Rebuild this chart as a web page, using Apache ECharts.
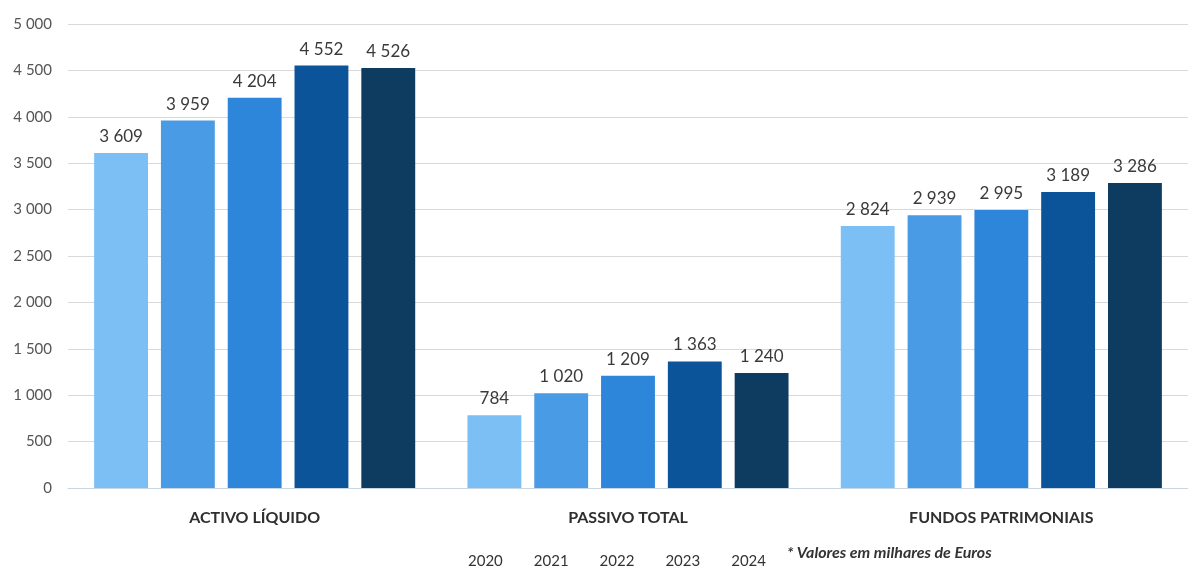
<!DOCTYPE html>
<html>
<head>
<meta charset="utf-8">
<script src="https://cdn.jsdelivr.net/npm/echarts@6/dist/echarts.min.js"></script>
<style>
  html, body { margin: 0; padding: 0; background: #fff; }
  #chart { width: 1188px; height: 567px; }
</style>
</head>
<body>
<div id="chart"></div>
<script>
var categories = ['ACTIVO LÍQUIDO', 'PASSIVO TOTAL', 'FUNDOS PATRIMONIAIS'];
var years = ['2020', '2021', '2022', '2023', '2024'];
var values2020 = [3609, 784, 2824];
var values2021 = [3959, 1020, 2939];
var values2022 = [4204, 1209, 2995];
var values2023 = [4552, 1363, 3189];
var values2024 = [4526, 1240, 3286];
var allValues = [values2020, values2021, values2022, values2023, values2024];
var colors = ['#7cbff4', '#4a9be6', '#2d86da', '#0b5499', '#0e3b60'];

// thousands with a space, as in the source
function fmt(v) {
    return String(v).replace(/\B(?=(\d{3})+(?!\d))/g, ' ');
}

var chart = echarts.init(document.getElementById('chart'));

var series = years.map(function (y, i) {
    return {
        name: y,
        type: 'bar',
        data: allValues[i],
        barGap: '24%',
        barCategoryGap: '14%',
        itemStyle: {color: colors[i]},
        label: {
            show: true,
            position: 'top',
            distance: 8,
            color: '#3a3a3a',
            fontSize: 17,
            fontFamily: 'Lato',
            formatter: function (p) { return fmt(p.value); }
        }
    };
});

chart.setOption({
    animation: false,
    textStyle: {fontFamily: 'Lato'},
    grid: {left: 68, right: -6, top: 24, bottom: 79},
    legend: {
        data: years,
        left: 458,
        top: 549,
        icon: 'rect',
        itemWidth: 0,
        itemHeight: 0,
        itemGap: 26,
        textStyle: {color: '#333', fontSize: 15, fontFamily: 'Lato'}
    },
    xAxis: {
        type: 'category',
        data: categories,
        axisTick: {show: false},
        axisLine: {lineStyle: {color: '#c8d6e4', width: 1}},
        axisLabel: {
            color: '#2e2e2e',
            fontWeight: 'bold',
            fontSize: 16,
            margin: 22
        }
    },
    yAxis: {
        type: 'value',
        min: 0,
        max: 5000,
        interval: 500,
        axisLabel: {
            color: '#555',
            fontSize: 15,
            margin: 16,
            formatter: fmt
        },
        splitLine: {lineStyle: {color: '#d9d9d9'}}
    },
    graphic: [{
        type: 'text',
        left: 787,
        top: 545,
        style: {
            text: '* Valores em milhares de Euros',
            fill: '#333',
            font: 'italic bold 16px Lato'
        }
    }],
    series: series
});
</script>
</body>
</html>
